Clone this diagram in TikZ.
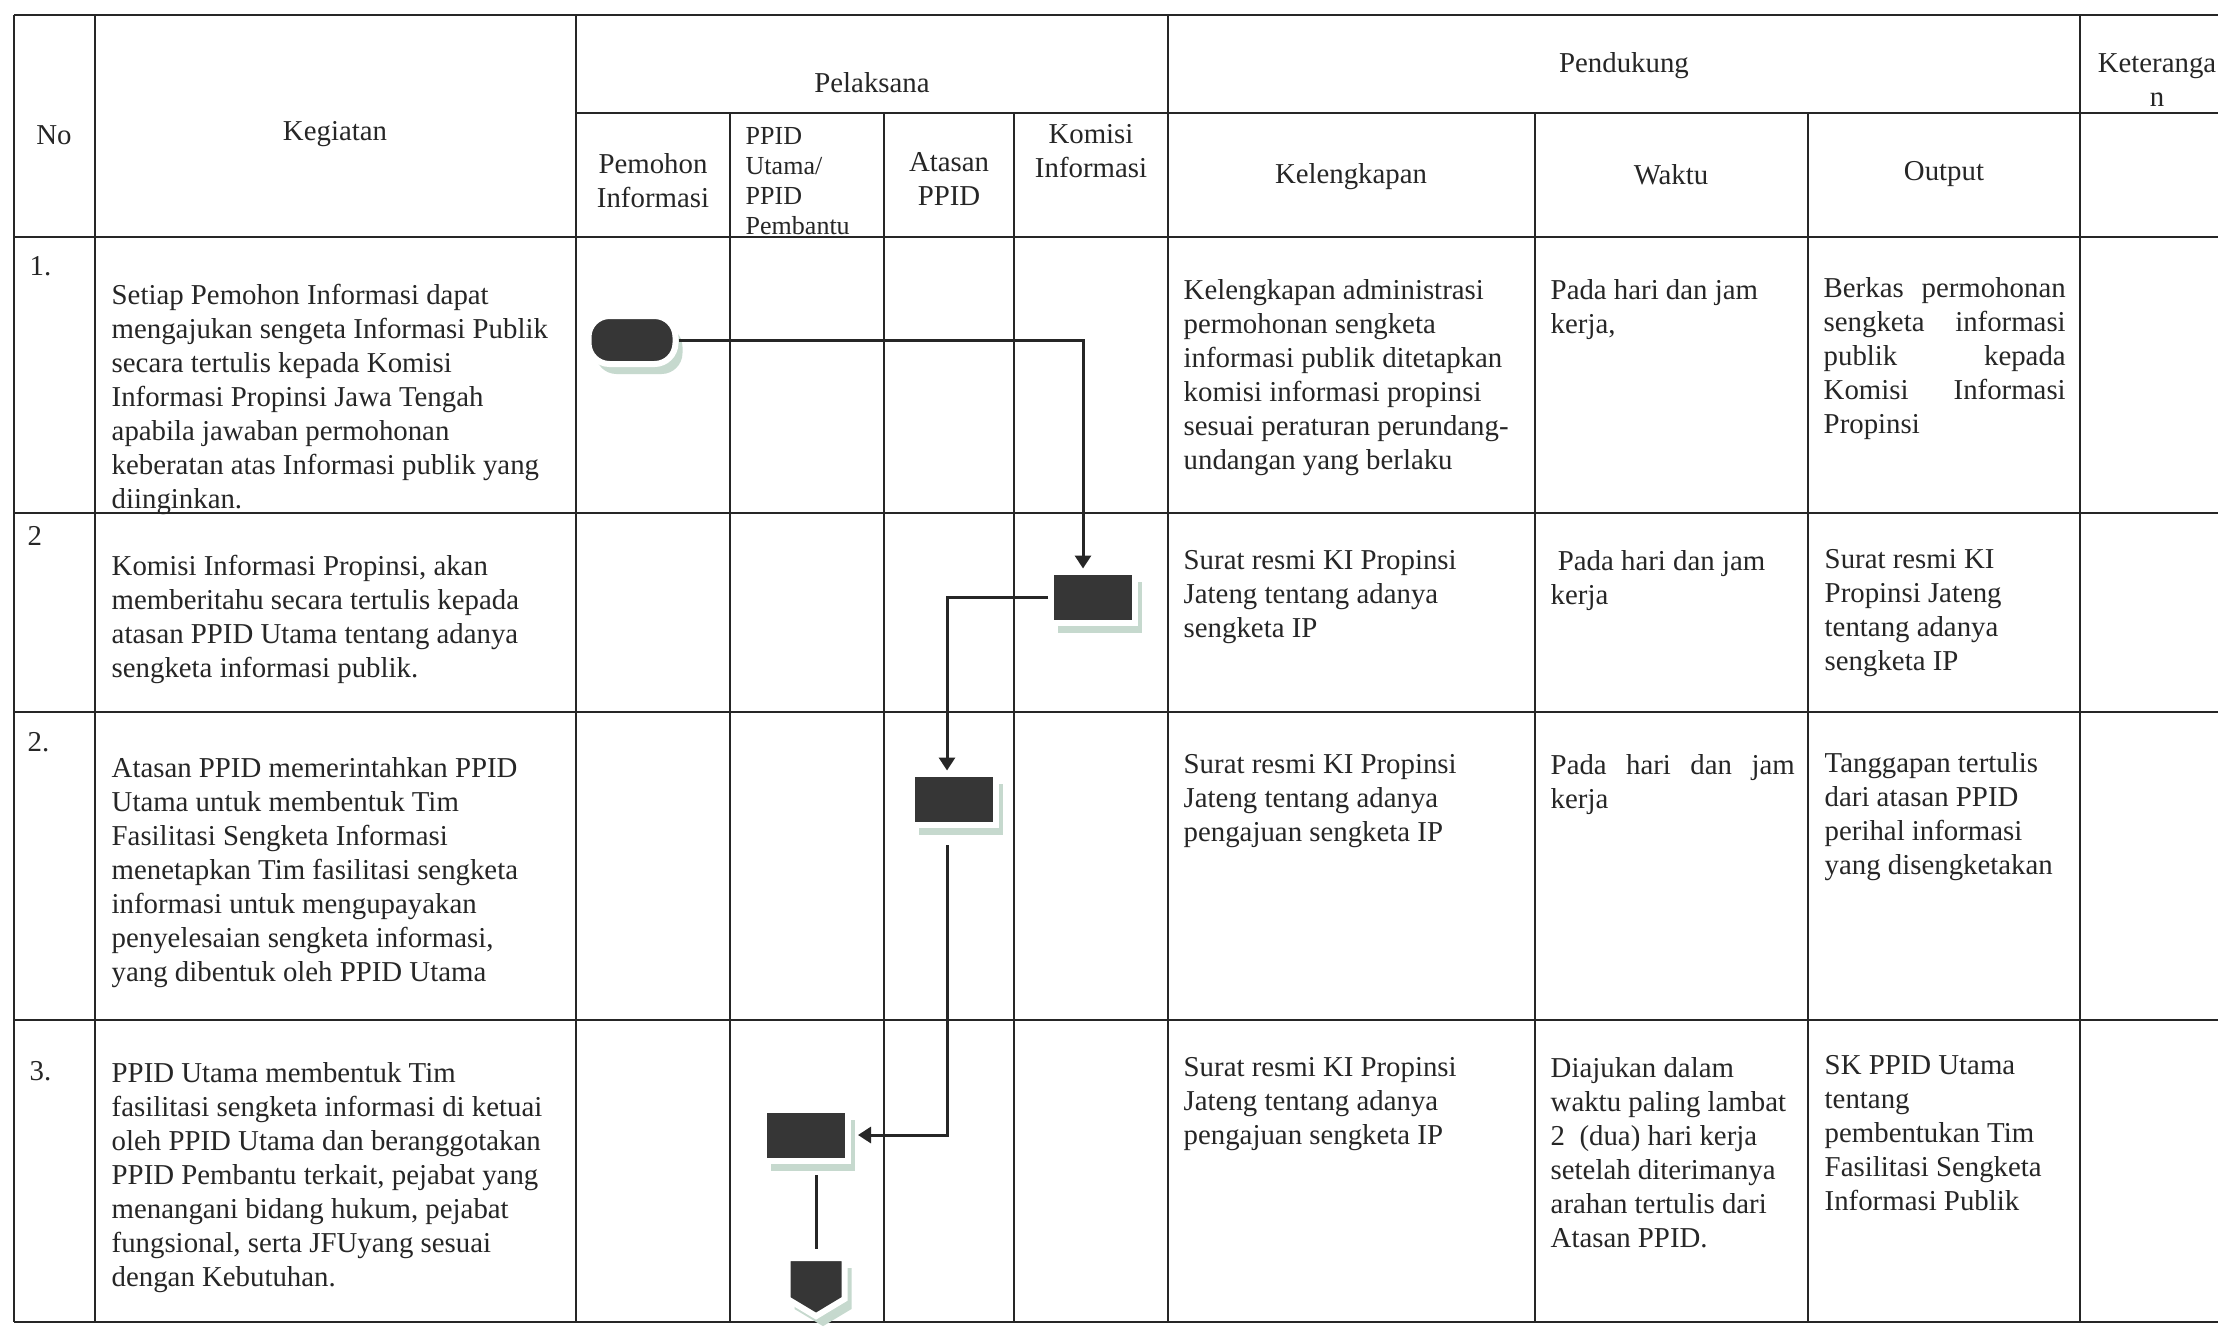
\documentclass[tikz,border=0pt]{standalone}
\usepackage{fontspec}
\setmainfont{Liberation Serif}
\usetikzlibrary{arrows.meta,shapes.symbols,shadows}
\definecolor{ink}{HTML}{262626}
\definecolor{boxfill}{HTML}{363636}
\definecolor{shade}{HTML}{C6D9CE}
\newcommand{\spread}[2][24.2mm]{\makebox[#1][s]{#2}}

\begin{document}
\begin{tikzpicture}[x=0.1mm,y=-0.1mm,>={Triangle[length=1.3mm,width=1.6mm]},
	grid/.style={ink,line width=0.25mm},
	flow/.style={ink,line width=0.3mm},
	txt/.style={inner sep=0pt,align=left,anchor=north west,text=ink,font=\fontsize{8.2}{9.68}\selectfont},
	hd/.style={inner sep=0pt,align=center,text=ink,font=\fontsize{8.2}{9.68}\selectfont},
	sym/.style={fill=boxfill,draw=white,line width=0.6mm,inner sep=0pt,
		drop shadow={shadow xshift=0.7mm,shadow yshift=-1mm,fill=shade,opacity=1}},
	act/.style={sym,rectangle,minimum width=8.4mm,minimum height=5.1mm},
	term/.style={sym,rectangle,rounded corners=2.1mm,minimum width=8.7mm,minimum height=4.8mm},
	offpage/.style={sym,signal,signal to=south,signal pointer angle=118,minimum width=5.7mm,minimum height=4.1mm}]
	\useasboundingbox (0,0) rectangle (2218,1326);
	\fill[white] (0,0) rectangle (2218,1326);
	
	% table
	\draw[grid] (14,15)--(2218,15) (576,113)--(2218,113) (14,237)--(2218,237)
		(14,513)--(2218,513) (14,712)--(2218,712) (14,1020)--(2218,1020) (14,1322)--(2218,1322);
	\foreach \x in {14,95,576,1168,2080} \draw[grid] (\x,15)--(\x,1322);
	\foreach \x in {730,884,1014,1535,1808} \draw[grid] (\x,113)--(\x,1322);
	
	\node[hd] (no) at (54,135) {No};
	\node[hd] (keg) at (335,134) {Kegiatan};
	\node[hd] (pel) at (872,83) {Pelaksana};
	\node[hd] (pen) at (1624,66) {Pendukung};
	\node[hd] (ket) at (2157,80) {Keteranga\\n};
	\node[hd] (pmh) at (653,181) {Pemohon\\Informasi};
	\node[hd,align=left,anchor=west,font=\fontsize{7.4}{8.5}\selectfont] (ppidh) at (745,181) {PPID\\Utama/\\PPID\\Pembantu};
	\node[hd] (ats) at (949,179) {Atasan\\PPID};
	\node[hd] (kih) at (1091,151) {Komisi\\Informasi};
	\node[hd] (kel) at (1351,177) {Kelengkapan};
	\node[hd] (wkt) at (1671,175) {Waktu};
	\node[hd] (out) at (1944,174) {Output};
	
	\node[hd,anchor=west] (n1) at (29,266) {1.};
	\node[hd,anchor=west] (n2) at (27,536) {2};
	\node[hd,anchor=west] (n3) at (27,742) {2.};
	\node[hd,anchor=west] (n4) at (29,1071) {3.};
	
	\node[txt] (k1) at (111,283) {Setiap Pemohon Informasi dapat\\mengajukan sengeta Informasi Publik\\secara tertulis kepada Komisi\\Informasi Propinsi Jawa Tengah\\apabila jawaban permohonan\\keberatan atas Informasi publik yang\\diinginkan.};
	\node[txt] (k2) at (111,554) {Komisi Informasi Propinsi, akan\\memberitahu secara tertulis kepada\\atasan PPID Utama tentang adanya\\sengketa informasi publik.};
	\node[txt] (k3) at (111,757) {Atasan PPID memerintahkan PPID\\Utama untuk membentuk Tim\\Fasilitasi Sengketa Informasi\\menetapkan Tim fasilitasi sengketa\\informasi untuk mengupayakan\\penyelesaian sengketa informasi,\\yang dibentuk oleh PPID Utama};
	\node[txt] (k4) at (111,1062) {PPID Utama membentuk Tim\\fasilitasi sengketa informasi di ketuai\\oleh PPID Utama dan beranggotakan\\PPID Pembantu terkait, pejabat yang\\menangani bidang hukum, pejabat\\fungsional, serta JFUyang sesuai\\dengan Kebutuhan.};
	
	\node[txt] (l1) at (1183,279) {Kelengkapan administrasi\\permohonan sengketa\\informasi publik ditetapkan\\komisi informasi propinsi\\sesuai peraturan perundang-\\undangan yang berlaku};
	\node[txt] (l2) at (1183,550) {Surat resmi KI Propinsi\\Jateng tentang adanya\\sengketa IP};
	\node[txt] (l3) at (1183,754) {Surat resmi KI Propinsi\\Jateng tentang adanya\\pengajuan sengketa IP};
	\node[txt] (l4) at (1183,1057) {Surat resmi KI Propinsi\\Jateng tentang adanya\\pengajuan sengketa IP};
	
	\node[txt] (w1) at (1550,279) {Pada hari dan jam\\kerja,};
	\node[txt] (w2) at (1550,550) {\ Pada hari dan jam\\kerja};
	\node[txt] (w3) at (1550,754) {\spread[24.4mm]{Pada hari dan jam}\\kerja};
	\node[txt] (w4) at (1550,1057) {Diajukan dalam\\waktu paling lambat\\2\ \ (dua) hari kerja\\setelah diterimanya\\arahan tertulis dari\\Atasan PPID.};
	
	\node[txt] (o1) at (1823,277) {\spread{Berkas permohonan}\\\spread{sengketa informasi}\\\spread{publik kepada}\\\spread{Komisi Informasi}\\Propinsi};
	\node[txt] (o2) at (1824,549) {Surat resmi KI\\Propinsi Jateng\\tentang adanya\\sengketa IP};
	\node[txt] (o3) at (1824,752) {Tanggapan tertulis\\dari atasan PPID\\perihal informasi\\yang disengketakan};
	\node[txt] (o4) at (1824,1055) {SK PPID Utama\\tentang\\pembentukan Tim\\Fasilitasi Sengketa\\Informasi Publik};
	
	% flow
	\node[term] (start) at (632,340) {};
	\node[act] (ki) at (1093,597) {};
	\node[act] (atasan) at (954,799) {};
	\node[act] (ppid) at (806,1135) {};
	\node[offpage,anchor=north] (conn) at (816,1255) {};
	
	\draw[flow,->] (start.east) -| ([xshift=-1mm]ki.north);
	\draw[flow,->] (ki.west) -| ([xshift=-0.7mm]atasan.north);
	\draw[flow,->,shorten <=1.75mm,shorten >=0.7mm] ([xshift=-0.7mm]atasan.south) |- (ppid.east);
	\draw[flow,shorten <=1.15mm,shorten >=0.6mm] (ppid.south -| conn.north) -- (conn.north);
	
\end{tikzpicture}
\end{document}
